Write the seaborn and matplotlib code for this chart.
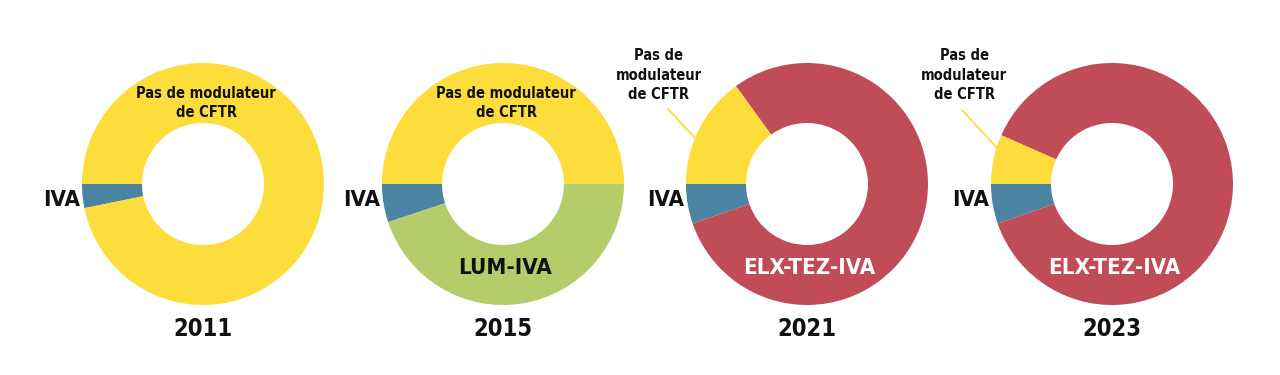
import matplotlib.pyplot as plt
import seaborn as sns
from matplotlib import font_manager

# Data (shares in %)
years = ['2011', '2015', '2021', '2023']
iva = [3.2, 5.1, 5.3, 5.3]
treatment = [0.0, 44.9, 79.7, 88.1]
treatment_names = ['', 'LUM-IVA', 'ELX-TEZ-IVA', 'ELX-TEZ-IVA']
no_modulator = [96.8, 50.0, 15.0, 6.6]

c_iva = '#4a84a2'
c_none = '#fddd3b'
c_treat = ['#b4cc6a', '#b4cc6a', '#c04c58', '#c04c58']
c_treat_text = ['#111111', '#111111', 'white', 'white']

sns.set_theme(style='white')

# look for a narrow font, the reference uses a condensed bold face
narrow = [f for f in font_manager.fontManager.ttflist
          if f.stretch in ('condensed', 'semi-condensed', 'extra-condensed')
          or 'Narrow' in f.name or 'Condensed' in f.name]
if narrow:
    plt.rcParams['font.family'] = [narrow[0].name, 'DejaVu Sans']
    plt.rcParams['font.stretch'] = narrow[0].stretch
else:
    plt.rcParams['font.family'] = ['DejaVu Sans']
plt.rcParams['font.weight'] = 'bold'

W, H = 1280, 375
fig = plt.figure(figsize=(12.8, 3.75), dpi=100)
ax = fig.add_axes([0, 0, 1, 1])
ax.axis('off')

centers_x = [203, 503, 807, 1112]
cy = H - 184
r_out, ring = 121, 60

for i, year in enumerate(years):
    cx = centers_x[i]
    ax.pie([iva[i], treatment[i], no_modulator[i]],
           colors=[c_iva, c_treat[i], c_none],
           startangle=180, counterclock=True,
           center=(cx, cy), radius=r_out,
           wedgeprops=dict(width=ring, linewidth=0))

    ax.text(cx, H - 329, year, ha='center', va='center', fontsize=17,
            fontweight='bold', color='#111111')
    ax.text(cx - 141, H - 200, 'IVA', ha='center', va='center', fontsize=16,
            fontweight='bold', color='#111111')

    if treatment_names[i]:
        ax.text(cx + 2, H - 268, treatment_names[i], ha='center', va='center',
                fontsize=16, fontweight='bold', color=c_treat_text[i])

    if i < 2:
        ax.text(cx + 3, H - 103, 'Pas de modulateur\nde CFTR', ha='center',
                va='center', fontsize=10.5, fontweight='bold',
                color='#111111', linespacing=1.4)
    else:
        ax.text(cx - 148, H - 75, 'Pas de\nmodulateur\nde CFTR', ha='center',
                va='center', fontsize=10.5, fontweight='bold',
                color='#111111', linespacing=1.4)
        # leader line from the label to the yellow wedge
        x0, y0, x1, y1 = ((-139, 109, -112, 138) if i == 2
                          else (-150, 110, -115, 148))
        ax.plot([cx + x0, cx + x1], [H - y0, H - y1],
                color=c_none, linewidth=1.3)

# pie() resets the limits, so set the pixel frame at the end
ax.set_xlim(0, W)
ax.set_ylim(0, H)
ax.set_aspect('equal')
fig.savefig('out.png', dpi=100)
